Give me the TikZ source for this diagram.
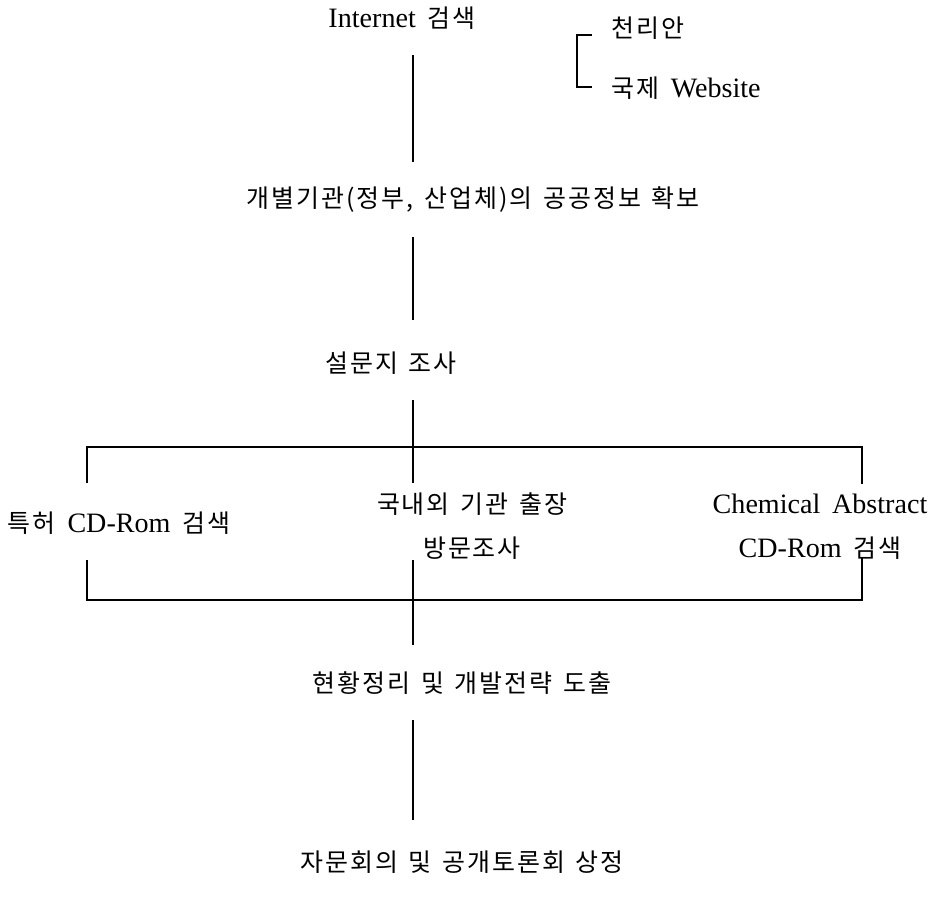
\documentclass[tikz,border=0pt]{standalone}
\usepackage{fontspec}
\setmainfont{Liberation Serif}[Scale=1.17]
\newfontfamily\kr{Noto Sans CJK KR}[Scale=1.04,LetterSpace=8,WordSpace=1.4]
% wider gap between Latin words and Hangul words
\newcommand{\gap}{\hspace{0.42em}}
\begin{document}
\begin{tikzpicture}[x=1pt,y=-1pt,
  lbl/.style={inner sep=0pt,font=\fontsize{24}{44}\selectfont,align=center},
  rule/.style={line width=1.3pt}]
\useasboundingbox (0,0) rectangle (939,902);
% text blocks
\node[lbl] (inet) at (402,18) {Internet\gap{\kr 검색}};
\node[lbl,anchor=west] (cheol) at (611,28) {\kr 천리안};
\node[lbl,anchor=west] (web) at (611,88) {{\kr 국제}\gap Website};
\node[lbl] (gov) at (473,200) {\kr 개별기관(정부, 산업체)의 공공정보 확보};
\node[lbl] (survey) at (391,363) {\kr 설문지 조사};
\node[lbl] (patent) at (119,523) {{\kr 특허}\gap CD-Rom\gap{\kr 검색}};
\node[lbl] (visit) at (472,526) {\kr 국내외 기관 출장\\\kr 방문조사};
\node[lbl] (chem) at (820,527) {Chemical\gap Abstract\\CD-Rom\gap{\kr 검색}};
\node[lbl] (status) at (462,683) {\kr 현황정리 및 개발전략 도출};
\node[lbl] (advice) at (462,862) {\kr 자문회의 및 공개토론회 상정};
% connector end points
\coordinate (a1) at (413,55);  \coordinate (a2) at (413,162);
\coordinate (b1) at (413,237); \coordinate (b2) at (413,320);
\coordinate (c1) at (413,400); \coordinate (c2) at (413,483);
\coordinate (c3) at (413,560); \coordinate (c4) at (413,645);
\coordinate (d1) at (413,720); \coordinate (d2) at (413,820);
\coordinate (L1) at (87,483);  \coordinate (L2) at (87,447);
\coordinate (R1) at (862,447); \coordinate (R2) at (862,484);
\coordinate (L3) at (87,560);  \coordinate (L4) at (87,600);
\coordinate (R3) at (862,600); \coordinate (R4) at (862,557);
\coordinate (s1) at (592,35);  \coordinate (s2) at (577,35);
\coordinate (s3) at (577,87);  \coordinate (s4) at (592,87);
% main flow
\draw[rule] (a1) -- (a2);
\draw[rule] (b1) -- (b2);
\draw[rule] (c1) -- (c2);
\draw[rule] (c3) -- (c4);
\draw[rule] (d1) -- (d2);
% brackets
\draw[rule] (s1) -- (s2) -- (s3) -- (s4);
\draw[rule] (L1) -- (L2) -- (R1) -- (R2);
\draw[rule] (L3) -- (L4) -- (R3) -- (R4);
\end{tikzpicture}
\end{document}
